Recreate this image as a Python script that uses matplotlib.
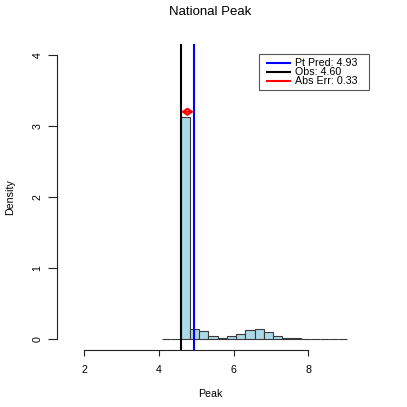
import matplotlib
matplotlib.use("Agg")
import matplotlib.pyplot as plt
import numpy as np
from matplotlib.patches import Rectangle
from matplotlib.lines import Line2D

plt.rcParams['font.family'] = ['Liberation Sans', 'DejaVu Sans']

# ---- data ----
bin_start = 4.09
bin_width = 0.2475
densities = [0, 0, 3.12, 0.137, 0.117, 0.047, 0.018, 0.038, 0.07, 0.131,
             0.137, 0.094, 0.047, 0.018, 0.009, 0.003, 0.003, 0.002, 0.001, 0.001]
pt_pred = 4.93
obs = 4.60
abs_err = 0.33
arrow_y = 3.2
x_ticks = [2, 4, 6, 8]
y_ticks = [0, 1, 2, 3, 4]
legend_labels = ["Pt Pred: 4.93", "Obs: 4.60", "Abs Err: 0.33"]
legend_colors = ["blue", "black", "red"]

W = 407
fig = plt.figure(figsize=(W / 100, W / 100), dpi=100)

def fx(px):
    return px / W

def fy(py):
    return 1 - py / W

FS = 7.7
left, right, top, bottom = 57, 363, 43.6, 350.4
ax = fig.add_axes([fx(left), fy(bottom), fx(right) - fx(left), fy(top) - fy(bottom)])
ax.set_xlim(1.278, 9.46)
ax.set_ylim(-0.16, 4.16)

edges = bin_start + bin_width * np.arange(len(densities) + 1)
ax.bar(edges[:-1], densities, width=bin_width, align='edge',
       color='#ADD8E6', edgecolor='#3a3a3a', linewidth=0.8, zorder=2)

ax.axvline(obs, color='black', lw=1.5, zorder=3)
ax.axvline(pt_pred, color='blue', lw=1.5, zorder=3)
ax.annotate('', xy=(pt_pred, arrow_y), xytext=(obs, arrow_y),
            arrowprops=dict(arrowstyle='<->,head_length=0.5,head_width=0.35',
                            mutation_scale=6, color='red', lw=1.5,
                            shrinkA=0, shrinkB=0), zorder=4)

for s in ['top', 'right']:
    ax.spines[s].set_visible(False)
ax.spines['bottom'].set_bounds(2, 8)
ax.spines['left'].set_bounds(0, 4)
for s in ['bottom', 'left']:
    ax.spines[s].set_linewidth(0.8)
    ax.spines[s].set_color('#222222')

ax.set_xticks(x_ticks)
ax.set_xticklabels([str(t) for t in x_ticks])
ax.set_yticks(y_ticks)
ax.set_yticklabels([str(t) for t in y_ticks], rotation=90, va='center')
ax.tick_params(axis='x', length=4.3, width=0.8, pad=6.0, labelsize=FS, color='#222222')
ax.tick_params(axis='y', length=6.3, width=0.8, pad=4.0, labelsize=FS, color='#222222')

fig.text(fx(210), fy(12), "National Peak", ha='center', va='center', fontsize=9.5)
fig.text(fx(210), fy(394), "Peak", ha='center', va='center', fontsize=FS)
fig.text(fx(10), fy(197), "Density", ha='center', va='center', fontsize=FS, rotation=90)

# legend box
fig.add_artist(Rectangle((fx(259.3), fy(90)), fx(369.3) - fx(259.3), fy(54) - fy(90),
                         transform=fig.transFigure, facecolor='white',
                         edgecolor='#555555', lw=0.8, zorder=5))
rows = [63.3, 72.3, 81.0]
for lab, col, yy in zip(legend_labels, legend_colors, rows):
    fig.add_artist(Line2D([fx(266.7), fx(290)], [fy(yy), fy(yy)], color=col, lw=1.5,
                          transform=fig.transFigure, zorder=6))
    fig.text(fx(295), fy(yy), lab, ha='left', va='center', fontsize=FS, zorder=6)

fig.savefig("out.png", dpi=100)
